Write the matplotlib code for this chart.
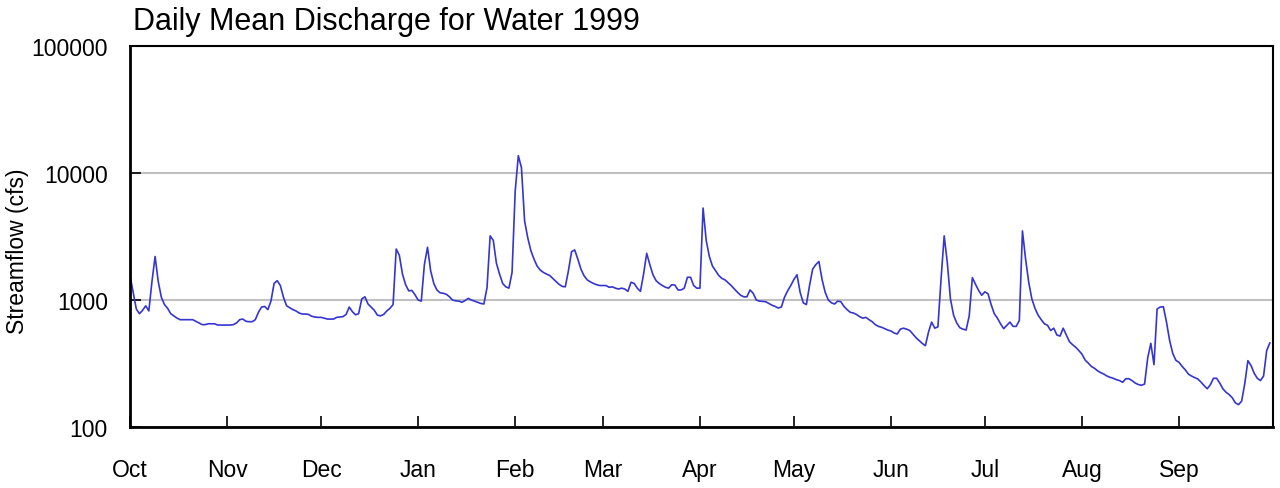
import matplotlib
matplotlib.use("Agg")
import matplotlib.pyplot as plt
import numpy as np

plt.rcParams['font.family'] = ['Liberation Sans', 'DejaVu Sans']

# daily mean discharge (cfs), water year Oct 1998 - Sep 1999
oct_q = [1550, 1150, 850, 780, 830, 900, 820, 1400, 2200, 1400,
         1050, 920, 860, 780, 750, 720, 700, 700, 700, 700,
         700, 680, 660, 640, 640, 650, 650, 650, 635, 635, 635]
nov_q = [635, 635, 640, 660, 700, 708, 680, 675, 675, 700,
         800, 880, 890, 840, 980, 1350, 1420, 1300, 1050, 900,
         870, 840, 820, 790, 776, 776, 770, 745, 735, 730]
dec_q = [730, 720, 708, 708, 708, 730, 735, 740, 770, 880,
         810, 765, 780, 1020, 1060, 930, 880, 830, 760, 750,
         770, 820, 860, 920, 2520, 2250, 1600, 1320, 1180, 1190, 1100]
jan_q = [1000, 980, 1900, 2600, 1700, 1350, 1200, 1140, 1130, 1110,
         1060, 1000, 985, 980, 960, 990, 1030, 1000, 980, 960,
         940, 930, 1250, 3200, 2950, 1950, 1600, 1350, 1270, 1240, 1650]
feb_q = [7200, 13700, 11000, 4200, 3100, 2450, 2100, 1850, 1720, 1650,
         1600, 1560, 1480, 1400, 1330, 1280, 1270, 1700, 2400, 2480,
         2100, 1750, 1550, 1440, 1390, 1350, 1320, 1300]
mar_q = [1300, 1300, 1260, 1270, 1240, 1220, 1240, 1220, 1170, 1380,
         1350, 1240, 1170, 1600, 2330, 1900, 1580, 1420, 1350, 1300,
         1260, 1240, 1320, 1310, 1200, 1200, 1240, 1510, 1510, 1300, 1240]
apr_q = [1240, 5300, 2950, 2200, 1850, 1700, 1560, 1480, 1440, 1370,
         1300, 1220, 1150, 1090, 1060, 1060, 1200, 1130, 1000, 980,
         975, 970, 940, 910, 890, 865, 880, 1050, 1180, 1300]
may_q = [1450, 1580, 1150, 950, 920, 1300, 1750, 1900, 2010, 1450,
         1150, 1000, 950, 930, 980, 970, 890, 840, 800, 790,
         770, 740, 720, 730, 700, 675, 640, 620, 610, 595, 580]
jun_q = [570, 550, 540, 590, 600, 590, 575, 540, 505, 480,
         455, 437, 560, 670, 600, 615, 1460, 3200, 1970, 1020,
         760, 660, 605, 590, 580, 750, 1500, 1330, 1190, 1090]
jul_q = [1160, 1120, 920, 780, 720, 650, 595, 632, 670, 620,
         620, 690, 3500, 2100, 1380, 1020, 860, 760, 700, 650,
         632, 575, 600, 530, 520, 600, 530, 470, 445, 425, 400]
aug_q = [375, 337, 319, 300, 290, 277, 268, 261, 252, 246,
         242, 236, 232, 225, 240, 240, 232, 222, 216, 213,
         218, 350, 456, 310, 850, 880, 885, 670, 480, 380, 335]
sep_q = [323, 300, 282, 261, 252, 245, 239, 226, 212, 200,
         215, 242, 242, 222, 200, 188, 180, 170, 155, 150,
         160, 220, 333, 305, 265, 242, 232, 252, 400, 459]

months = ["Oct", "Nov", "Dec", "Jan", "Feb", "Mar",
          "Apr", "May", "Jun", "Jul", "Aug", "Sep"]

all_q = [oct_q, nov_q, dec_q, jan_q, feb_q, mar_q,
         apr_q, may_q, jun_q, jul_q, aug_q, sep_q]
flow = np.concatenate(all_q)
days = np.arange(len(flow))
month_starts = np.cumsum([0] + [len(m) for m in all_q])

fig = plt.figure(figsize=(12.8, 4.89), dpi=100)
ax = fig.add_axes([0.1016, 0.1247, 0.8929, 0.7792])

ax.plot(days, flow, color='#3535d0', lw=1.2)

ax.set_yscale('log')
ax.set_ylim(100, 100000)
ax.set_xlim(0, len(flow))
ax.set_yticks([100, 1000, 10000, 100000])
ax.set_yticklabels(['100', '1000', '10000', '100000'])
ax.minorticks_off()
ax.set_xticks(month_starts[:-1])
ax.set_xticklabels(months)

ax.grid(axis='y', color='#c0c0c0', lw=1.5)
ax.set_axisbelow(True)

ax.tick_params(axis='y', direction='in', length=8, width=1.2, pad=16, labelsize=16.5)
ax.tick_params(axis='x', direction='in', length=8, width=1.2, pad=22, labelsize=16.5)

for s in ['left', 'bottom']:
    ax.spines[s].set_linewidth(2)
for s in ['top', 'right']:
    ax.spines[s].set_linewidth(1.5)

ax.set_ylabel('Streamflow (cfs)', fontsize=16.5)
ax.yaxis.set_label_coords(-0.088, 0.465)

fig.text(0.104, 0.955, 'Daily Mean Discharge for Water 1999', fontsize=22,
         ha='left', va='center')

fig.savefig('out.png', dpi=100)
